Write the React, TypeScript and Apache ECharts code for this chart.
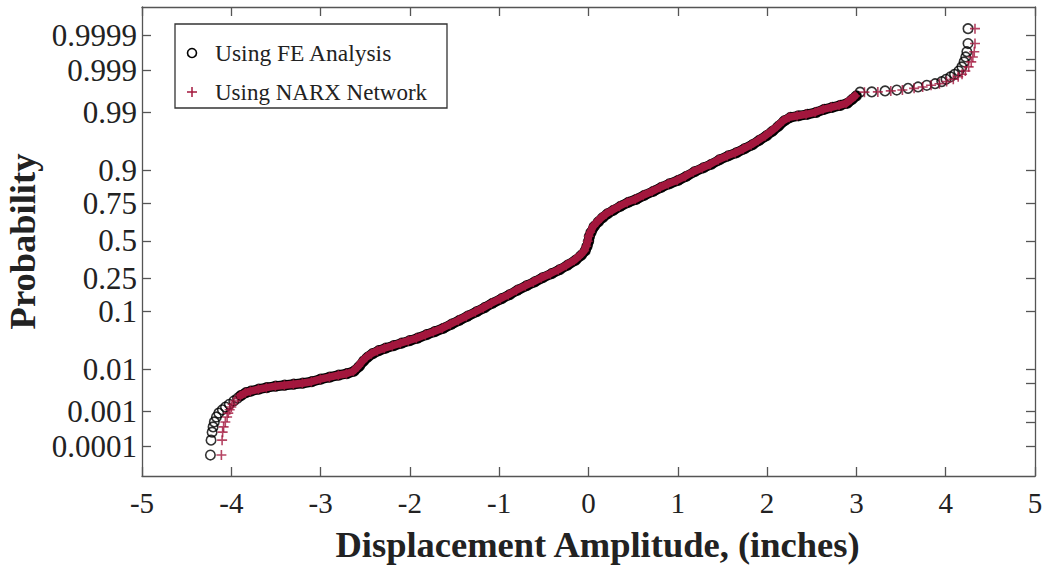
import { useEffect, useRef } from "react";
import * as echarts from "echarts";

// ---- Probability axis ticks ----
const probTicks = [0.0001, 0.001, 0.01, 0.1, 0.25, 0.5, 0.75, 0.9, 0.99, 0.999, 0.9999];
const probTickLabels = ["0.0001", "0.001", "0.01", "0.1", "0.25", "0.5", "0.75", "0.9", "0.99", "0.999", "0.9999"];
const rightProbTicks = [0.0001, 0.0005, 0.001, 0.005, 0.01, 0.1, 0.25, 0.5, 0.75, 0.9, 0.99, 0.995, 0.999, 0.9995, 0.9999];

// ---- Normal scores of the plotting positions (shared by both data sets) ----
const lowerScores = [-3.88, -3.61, -3.465, -3.37, -3.28, -3.19, -3.12, -3.06, -3.01, -2.96, -2.9, -2.85];
const bodyScores = [
  -2.804, -2.75, -2.723, -2.687, -2.659, -2.632, -2.614, -2.596, -2.578, -2.551,
  -2.505, -2.469, -2.433, -2.406, -2.361, -2.27, -2.179, -2.107, -2.043, -1.989,
  -1.944, -1.899, -1.853, -1.808, -1.763, -1.699, -1.645, -1.582, -1.509, -1.437,
  -1.364, -1.283, -1.21, -1.129, -1.047, -0.975, -0.893, -0.812, -0.743, -0.667,
  -0.594, -0.522, -0.44, -0.35, -0.259, -0.178, -0.096, -0.005, 0.085, 0.158,
  0.266, 0.348, 0.42, 0.493, 0.556, 0.629, 0.701, 0.755, 0.828, 0.9,
  0.973, 1.036, 1.1, 1.172, 1.254, 1.326, 1.39, 1.471, 1.543, 1.598,
  1.67, 1.743, 1.824, 1.906, 1.987, 2.078, 2.178, 2.241, 2.268, 2.295,
  2.331, 2.386, 2.422, 2.458, 2.495, 2.567, 2.63,
];
const upperScores = [2.697, 2.701, 2.719, 2.735, 2.766, 2.791, 2.821, 2.85, 2.888, 2.93, 2.975, 3.02, 3.08, 3.155, 3.245, 3.335, 3.43, 3.578, 3.848];

// ---- Sorted displacement amplitudes (inches) ----
const feLower = [-4.234, -4.227, -4.215, -4.204, -4.19, -4.167, -4.141, -4.1, -4.065, -4.022, -3.972, -3.93];
const narxLower = [-4.111, -4.103, -4.097, -4.086, -4.067, -4.047, -4.034, -4.018, -4.0, -3.985, -3.962, -3.93];

const feBody = [
  -3.894, -3.838, -3.782, -3.692, -3.603, -3.502, -3.401, -3.3, -3.2, -3.099,
  -2.998, -2.897, -2.797, -2.707, -2.626, -2.565, -2.519, -2.473, -2.417, -2.35,
  -2.272, -2.182, -2.093, -2.003, -1.914, -1.813, -1.723, -1.623, -1.533, -1.443,
  -1.354, -1.253, -1.164, -1.074, -0.973, -0.884, -0.794, -0.694, -0.604, -0.514,
  -0.414, -0.324, -0.235, -0.145, -0.08, -0.036, -0.015, 0.002, 0.012, 0.03,
  0.066, 0.111, 0.157, 0.213, 0.28, 0.359, 0.448, 0.538, 0.627, 0.728,
  0.818, 0.907, 1.008, 1.097, 1.187, 1.288, 1.377, 1.467, 1.567, 1.657,
  1.747, 1.836, 1.914, 1.993, 2.06, 2.127, 2.194, 2.263, 2.352, 2.452,
  2.552, 2.642, 2.732, 2.821, 2.899, 2.955, 3.0,
];
const narxBody = [
  -3.899, -3.843, -3.787, -3.697, -3.608, -3.507, -3.406, -3.305, -3.205, -3.104,
  -3.003, -2.902, -2.802, -2.712, -2.634, -2.578, -2.533, -2.488, -2.432, -2.365,
  -2.287, -2.197, -2.108, -2.018, -1.929, -1.828, -1.738, -1.638, -1.548, -1.458,
  -1.369, -1.268, -1.179, -1.089, -0.988, -0.899, -0.809, -0.709, -0.619, -0.529,
  -0.429, -0.339, -0.25, -0.16, -0.093, -0.048, -0.026, -0.009, 0.002, 0.019,
  0.053, 0.097, 0.142, 0.198, 0.265, 0.344, 0.433, 0.523, 0.612, 0.713,
  0.803, 0.892, 0.993, 1.082, 1.172, 1.273, 1.362, 1.452, 1.552, 1.642,
  1.732, 1.821, 1.899, 1.978, 2.045, 2.112, 2.179, 2.246, 2.336, 2.437,
  2.537, 2.627, 2.717, 2.806, 2.884, 2.94, 2.985,
];

const feUpper = [3.041, 3.172, 3.321, 3.452, 3.578, 3.69, 3.788, 3.881, 3.956, 4.004, 4.054, 4.099, 4.146, 4.181, 4.206, 4.224, 4.237, 4.25, 4.25];
const narxUpper = [3.09, 3.24, 3.385, 3.515, 3.646, 3.742, 3.836, 3.93, 4.01, 4.085, 4.14, 4.183, 4.22, 4.257, 4.286, 4.304, 4.32, 4.328, 4.328];

// Inverse of the standard normal CDF (Acklam's rational approximation),
// used to place probability ticks on the normal-score axis.
function normInv(p: number): number {
  const a = [-39.69683028665376, 220.9460984245205, -275.9285104469687, 138.357751867269, -30.66479806614716, 2.506628277459239];
  const b = [-54.47609879822406, 161.5858368580409, -155.6989798598866, 66.80131188771972, -13.28068155288572];
  const c = [-0.007784894002430293, -0.3223964580411365, -2.400758277161838, -2.549732539343734, 4.374664141464968, 2.938163982698783];
  const d = [0.007784695709041462, 0.3224671290700398, 2.445134137142996, 3.754408661907416];
  const pl = 0.02425;
  if (p < pl) {
    const q = Math.sqrt(-2 * Math.log(p));
    return (((((c[0] * q + c[1]) * q + c[2]) * q + c[3]) * q + c[4]) * q + c[5]) /
      ((((d[0] * q + d[1]) * q + d[2]) * q + d[3]) * q + 1);
  }
  if (p > 1 - pl) {
    const q = Math.sqrt(-2 * Math.log(1 - p));
    return -(((((c[0] * q + c[1]) * q + c[2]) * q + c[3]) * q + c[4]) * q + c[5]) /
      ((((d[0] * q + d[1]) * q + d[2]) * q + d[3]) * q + 1);
  }
  const q = p - 0.5;
  const r = q * q;
  return ((((((a[0] * r + a[1]) * r + a[2]) * r + a[3]) * r + a[4]) * r + a[5]) * q) /
    (((((b[0] * r + b[1]) * r + b[2]) * r + b[3]) * r + b[4]) * r + 1);
}

const zip = (xs: number[], ys: number[]) => xs.map((x, i) => [x, ys[i]]);

const SERIF = "'Liberation Serif', 'Times New Roman', serif";
const AXIS = "#555555";
const TEXT = "#222222";
const RED = "#a3173d";
const PLUS = "path://M4.2,0H5.8V10H4.2Z M0,4.2H10V5.8H0Z";

export default function App() {
  const ref = useRef<HTMLDivElement>(null);

  useEffect(() => {
    if (!ref.current) return;
    const chart = echarts.init(ref.current, undefined, { renderer: "svg" });

    const leftScores = probTicks.map(normInv);
    const rightScores = rightProbTicks.map(normInv);
    const labelFor = (v: number) => {
      const i = leftScores.findIndex((s) => Math.abs(s - v) < 1e-6);
      return i >= 0 ? probTickLabels[i] : "";
    };

    const allScores = [...lowerScores, ...bodyScores, ...upperScores];
    const fePoints = zip([...feLower, ...feBody, ...feUpper], allScores);
    const narxPoints = zip([...narxLower, ...narxBody, ...narxUpper], allScores);
    const feBand = zip(feBody, bodyScores);
    const narxBand = zip(narxBody, bodyScores);

    const lineStyle = { color: AXIS, width: 1.3 };
    const yMin = -4.26;
    const yMax = 4.24;

    chart.setOption({
      animation: false,
      backgroundColor: "#ffffff",
      grid: { left: 142, right: 9, top: 7, bottom: 93, containLabel: false, outerBoundsMode: "none" },
      xAxis: [
        {
          type: "value",
          position: "bottom",
          min: -5,
          max: 5,
          interval: 1,
          axisLine: { show: true, onZero: false, lineStyle },
          axisTick: { show: true, inside: true, length: 9, lineStyle },
          axisLabel: {
            margin: 12,
            fontSize: 29,
            fontFamily: SERIF,
            color: TEXT,
            showMinLabel: true,
            showMaxLabel: true,
          },
          splitLine: { show: false },
          name: "Displacement Amplitude, (inches)",
          nameLocation: "middle",
          nameGap: 50,
          nameTextStyle: {
            fontSize: 36.5,
            fontWeight: "bold",
            fontFamily: SERIF,
            color: TEXT,
            padding: [0, 0, 0, 18],
          },
        },
        {
          type: "value",
          position: "top",
          min: -5,
          max: 5,
          interval: 1,
          axisLine: { show: true, onZero: false, lineStyle },
          axisTick: { show: true, inside: true, length: 9, lineStyle },
          axisLabel: { show: false },
          splitLine: { show: false },
        },
      ],
      yAxis: [
        {
          type: "value",
          position: "left",
          min: yMin,
          max: yMax,
          axisLine: { show: true, onZero: false, lineStyle },
          axisTick: { show: true, inside: true, length: 9, lineStyle, customValues: leftScores },
          axisLabel: {
            customValues: leftScores,
            formatter: (v: number) => labelFor(v),
            margin: 5,
            fontSize: 31,
            fontFamily: SERIF,
            color: TEXT,
          },
          splitLine: { show: false },
          name: "Probability",
          nameLocation: "middle",
          nameRotate: 90,
          nameGap: 93,
          nameTextStyle: { fontSize: 36.5, fontWeight: "bold", fontFamily: SERIF, color: TEXT },
        },
        {
          type: "value",
          position: "right",
          min: yMin,
          max: yMax,
          axisLine: { show: true, onZero: false, lineStyle },
          axisTick: { show: true, inside: true, length: 9, lineStyle, customValues: rightScores },
          axisLabel: { show: false },
          splitLine: { show: false },
        },
      ],
      series: [
        {
          name: "Using FE Analysis",
          type: "line",
          data: feBand,
          showSymbol: false,
          silent: true,
          z: 2,
          lineStyle: { color: "#000000", width: 10, cap: "round", join: "round" },
        },
        {
          name: "Using FE Analysis",
          type: "scatter",
          data: fePoints,
          symbol: "circle",
          symbolSize: 9.5,
          z: 3,
          itemStyle: { color: "transparent", borderColor: "#000000", borderWidth: 1.6 },
        },
        {
          name: "Using NARX Network",
          type: "line",
          data: narxBand,
          showSymbol: false,
          silent: true,
          z: 4,
          lineStyle: { color: RED, width: 7.5, cap: "round", join: "round" },
        },
        {
          name: "Using NARX Network",
          type: "scatter",
          data: narxPoints,
          symbol: PLUS,
          symbolSize: 10,
          z: 5,
          itemStyle: { color: RED },
        },
      ],
      graphic: [
        {
          type: "group",
          x: 175,
          y: 24,
          z: 100,
          children: [
            {
              type: "rect",
              shape: { x: 0, y: 0, width: 272, height: 84 },
              style: { fill: "#ffffff", stroke: "#333333", lineWidth: 1.3 },
            },
            {
              type: "circle",
              shape: { cx: 17, cy: 29, r: 4.5 },
              style: { fill: "none", stroke: "#000000", lineWidth: 1.6 },
            },
            {
              type: "line",
              shape: { x1: 12, y1: 68, x2: 22, y2: 68 },
              style: { stroke: RED, lineWidth: 1.5 },
            },
            {
              type: "line",
              shape: { x1: 17, y1: 63, x2: 17, y2: 73 },
              style: { stroke: RED, lineWidth: 1.5 },
            },
            {
              type: "text",
              x: 40,
              y: 29,
              style: {
                text: "Using FE Analysis",
                fontSize: 23.5,
                fontFamily: SERIF,
                fill: TEXT,
                verticalAlign: "middle",
              },
            },
            {
              type: "text",
              x: 40,
              y: 68,
              style: {
                text: "Using NARX Network",
                fontSize: 23,
                fontFamily: SERIF,
                fill: TEXT,
                verticalAlign: "middle",
              },
            },
          ],
        },
      ],
    });

    return () => chart.dispose();
  }, []);

  return (
    <div
      ref={ref}
      style={{ position: "fixed", left: 0, top: 0, width: 1044, height: 569, background: "#ffffff" }}
    />
  );
}
